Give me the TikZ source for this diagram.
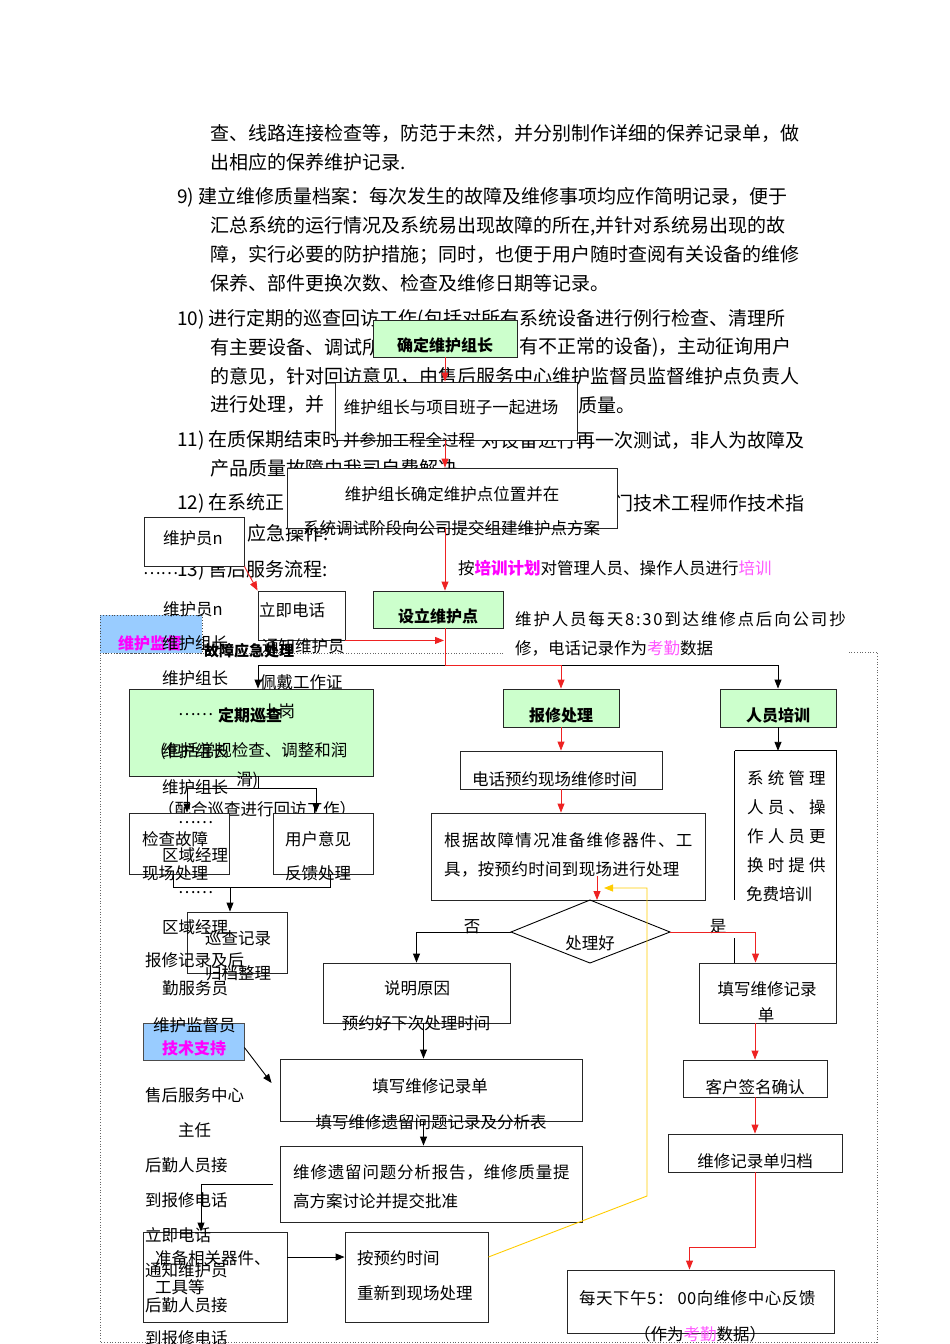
\documentclass[tikz,border=0pt]{standalone}
\usepackage{fontspec}
\setmainfont{Noto Sans CJK SC}
\usetikzlibrary{arrows.meta, positioning, calc}
\definecolor{boxgreen}{HTML}{CCFFCC}
\definecolor{boxblue}{HTML}{99CCFF}
\definecolor{mag}{HTML}{FF00FF}
\definecolor{magl}{HTML}{FF55FF}
\definecolor{lnred}{HTML}{EE2222}
\definecolor{lnyellow}{HTML}{FFCC00}
\newcommand\fsz[1]{\fontsize{#1pt}{#1pt}\selectfont}
\newcommand\spaced[1]{\addfontfeatures{LetterSpace=#1}}

\begin{document}
\begin{tikzpicture}[
        x=1pt, y=-1pt,
        body/.style={inner sep=0pt, anchor=west, font=\fsz{19}},
        lbl/.style={inner sep=0pt, anchor=west, font=\fsz{16.5}},
        ctr/.style={inner sep=0pt, font=\fsz{16.5}},
        hd/.style={inner sep=0pt, font=\fsz{16}\bfseries},
        wbox/.style={draw=black!85, fill=white, line width=0.9pt, inner sep=0pt},
        gbox/.style={wbox, fill=boxgreen},
        bbox/.style={draw=black!70, fill=boxblue, line width=0.8pt, inner sep=0pt},
        dotframe/.style={draw=black!60, line width=0.7pt, dotted},
        rarr/.style={draw=lnred, line width=0.9pt, -{Triangle[length=9pt,width=7pt]}},
        rline/.style={draw=lnred, line width=0.9pt},
        barr/.style={draw=black, line width=0.9pt, -{Triangle[length=9pt,width=7pt]}},
        bline/.style={draw=black, line width=0.9pt},
        yarr/.style={draw=lnyellow, line width=0.9pt, -{Triangle[length=9pt,width=7pt]}}
        ]
        \useasboundingbox (0,0) rectangle (950,1344);

        % body text of the page
        \node (t1)  [body] at (210,133) {查、线路连接检查等，防范于未然，并分别制作详细的保养记录单，做};
        \node (t2)  [body] at (210,162) {出相应的保养维护记录.};
        \node (t3)  [body] at (177,197) {9) 建立维修质量档案：每次发生的故障及维修事项均应作简明记录，便于};
        \node (t4)  [body] at (210,226) {汇总系统的运行情况及系统易出现故障的所在,并针对系统易出现的故};
        \node (t5)  [body] at (210,255) {障，实行必要的防护措施；同时，也便于用户随时查阅有关设备的维修};
        \node (t6)  [body] at (210,283) {保养、部件更换次数、检查及维修日期等记录。};
        \node (t7)  [body] at (177,319) {10) 进行定期的巡查回访工作(包括对所有系统设备进行例行检查、清理所};
        \node (t8a) [body] at (210,347) {有主要设备、调试所};
        \node (t8b) [body] at (519,347) {有不正常的设备)，主动征询用户};
        \node (t9)  [body] at (210,376) {的意见，针对回访意见，由售后服务中心维护监督员监督维护点负责人};
        \node (t10a) [body] at (210,405) {进行处理，并};
        \node (t10b) [body] at (578,405) {质量。};
        \node (t11a) [body] at (177,440) {11) 在质保期结束时};
        \node (t11b) [body, anchor=east] at (805,440) {对设备进行再一次测试，非人为故障及};
        \node (t12) [body] at (210,468) {产品质量故障由我司自费解决。};
        \node (t13a) [body] at (177,503) {12) 在系统正};
        \node (t13b) [body, anchor=east] at (805,503) {门技术工程师作技术指};
        \node (t14) [body] at (247,533) {应急操作:};
        \node (t15) [body] at (177,570) {13) 售后服务流程:};

        % frame and boxes
        \draw [dotframe] (503,653) -- (100,653) -- (100,1342) -- (877,1342) -- (877,652) -- (848,652);
        \node (sup) [bbox, dotted, minimum width=102, minimum height=38] at (151,634) {};

        \node (b1) [gbox, minimum width=144, minimum height=37] at (445,338.5) {};
        \node (b2) [wbox, minimum width=242, minimum height=58] at (456,411) {};
        \node (b3) [wbox, minimum width=330, minimum height=60] at (452,498) {};
        \node (b4) [gbox, minimum width=130, minimum height=37] at (438,609.5) {};
        \node (wn) [wbox, minimum width=100, minimum height=49] at (194,541.5) {};
        \node (call) [wbox, minimum width=87, minimum height=49] at (301.5,615.5) {};

        \node (dq) [gbox, minimum width=244, minimum height=87] at (251,732.5) {};
        \node (bx) [gbox, minimum width=116, minimum height=38] at (561,708) {};
        \node (px) [gbox, minimum width=116, minimum height=38] at (778,708) {};

        \node (dh) [wbox, minimum width=202, minimum height=38] at (561,770) {};
        \node (gj) [wbox, minimum width=274, minimum height=87] at (568,856.5) {};
        \node (sg) [inner sep=0pt, minimum width=101, minimum height=212] at (785.5,857) {};
        \draw [bline] (sg.north west) -- (sg.north east) -- (sg.south east);
        \draw [bline] (sg.north west) -- ++(0,149);
        \draw [bline] (sg.south west) -- ++(0,-25);

        \coordinate (dt) at (590,900);
        \coordinate (dr) at (670,932);
        \coordinate (db) at (590,963);
        \coordinate (dl) at (511,932);
        \draw [bline] (dt) -- (dr) -- (db) -- (dl) -- cycle;

        \node (xc) [wbox, minimum width=100, minimum height=61] at (237,942.5) {};

        \node (sm) [wbox, minimum width=187, minimum height=60] at (416.5,993) {};
        \node (tx) [wbox, minimum width=137, minimum height=60] at (767.5,993) {};
        \node (kh) [wbox, minimum width=144, minimum height=37] at (755,1078.5) {};
        \node (gd) [wbox, minimum width=174, minimum height=38] at (755,1153) {};
        \node (mt) [wbox, minimum width=267, minimum height=63] at (700.5,1301.5) {};

        \node (js) [bbox, minimum width=101, minimum height=37] at (193.5,1041.5) {};
        \node (tl) [wbox, minimum width=302, minimum height=62] at (431,1090) {};
        \node (wy) [wbox, minimum width=302, minimum height=76] at (431,1184) {};
        \node (zb) [wbox, minimum width=144, minimum height=90] at (215,1277) {};
        \node (ay) [wbox, minimum width=143, minimum height=90] at (416.5,1277) {};

        % texts in and around the boxes
        \node [hd] at (445,345) {确定维护组长};
        \node [ctr] at (451,407) {维护组长与项目班子一起进场};
        \node [lbl] at (343,440) {并参加工程全过程};
        \node [ctr] at (452,494) {维护组长确定维护点位置并在};
        \node [lbl] at (303,528) {系统调试阶段向公司提交组建维护点方案};
        \node [hd] at (438,616) {设立维护点};
        \node [lbl] at (458,568) {按{\color{mag}\bfseries 培训计划}对管理人员、操作人员进行{\color{magl}培训}};
        \node [lbl] at (515,619) {\spaced{11}维护人员每天8:30到达维修点后向公司抄};
        \node [lbl] at (515,648) {修，电话记录作为{\color{magl}考勤}数据};

        \node [lbl] at (163,538) {维护员n};
        \node [lbl] at (143,574) {……};
        \node [lbl] at (163,609) {维护员n};
        \node [lbl, font=\fsz{16}\bfseries, text=mag] at (118,643) {维护监督};
        \node [lbl, font=\fsz{15}\bfseries] at (204,651) {故障应急处理};
        \node [lbl] at (162,643) {维护组长};
        \node [lbl] at (162,678) {维护组长};
        \node [lbl] at (259,610) {立即电话};
        \node [lbl] at (262,646) {通知维护员};
        \node [lbl] at (260,682) {佩戴工作证};

        \node [lbl] at (178,715) {……};
        \node [hd, anchor=west] at (218,715) {定期巡查};
        \node [lbl] at (262,711) {上岗};
        \node [lbl] at (160,751) {(包括常规检查、调整和润};
        \node [lbl] at (162,751) {维护组长};
        \node [lbl] at (236,780) {滑)};
        \node [lbl] at (162,787) {维护组长};
        \node [lbl] at (158,809) {（配合巡查进行回访工作）};

        \node (jc) [wbox, minimum width=100, minimum height=61] at (179,843.5) {};
        \node (yh) [wbox, minimum width=100, minimum height=61] at (323,843.5) {};
        \node [lbl] at (178,823) {……};
        \node [lbl] at (142,839) {检查故障};
        \node [lbl] at (162,855) {区域经理};
        \node [lbl] at (142,873) {现场处理};
        \node [lbl] at (285,839) {用户意见};
        \node [lbl] at (285,873) {反馈处理};
        \node [lbl] at (178,893) {……};
        \node [lbl] at (162,927) {区域经理};
        \node [lbl] at (205,938) {巡查记录};
        \node [lbl] at (145,960) {报修记录及后};
        \node [lbl] at (205,973) {归档整理};
        \node [lbl] at (162,988) {勤服务员};

        \node [lbl] at (153,1025) {维护监督员};
        \node [hd, text=mag] at (194,1048) {技术支持};
        \node [lbl] at (145,1095) {售后服务中心};
        \node [lbl] at (178,1130) {主任};
        \node [lbl] at (145,1165) {后勤人员接};
        \node [lbl] at (145,1200) {到报修电话};
        \node [lbl] at (145,1235) {立即电话};
        \node [lbl] at (155,1258) {准备相关器件、};
        \node [lbl] at (145,1270) {通知维护员};
        \node [lbl] at (155,1287) {工具等};
        \node [lbl] at (145,1305) {后勤人员接};
        \node [lbl] at (145,1338) {到报修电话};

        \node [hd] at (561,715) {报修处理};
        \node [hd] at (778,715) {人员培训};
        \node [lbl] at (472,779) {电话预约现场维修时间};
        \node [lbl] at (444,840) {\spaced{8}根据故障情况准备维修器件、工};
        \node [lbl] at (444,869) {\spaced{2}具，按预约时间到现场进行处理};
        \node [lbl] at (747,778) {\spaced{25}系统管理};
        \node [lbl] at (747,807) {\spaced{25}人员、操};
        \node [lbl] at (747,836) {\spaced{25}作人员更};
        \node [lbl] at (747,865) {\spaced{25}换时提供};
        \node [lbl] at (746,894) {免费培训};
        \node [ctr] at (590,943) {处理好};
        \node [ctr] at (472,927) {否};
        \node [ctr] at (718,927) {是};
        \node [ctr] at (417,988) {说明原因};
        \node [ctr] at (416,1023) {预约好下次处理时间};
        \node [ctr] at (767,989) {填写维修记录};
        \node [ctr] at (766,1015) {单};
        \node [ctr] at (755,1087) {客户签名确认};
        \node [ctr] at (755,1161) {维修记录单归档};
        \node [lbl] at (579,1298) {\spaced{3}每天下午5： 00向维修中心反馈};
        \node [ctr] at (700,1334) {（作为{\color{magl}考勤}数据）};
        \node [ctr] at (430,1086) {填写维修记录单};
        \node [ctr] at (431,1122) {填写维修遗留问题记录及分析表};
        \node [lbl] at (293,1172) {\spaced{5}维修遗留问题分析报告，维修质量提};
        \node [lbl] at (293,1201) {高方案讨论并提交批准};
        \node [lbl] at (357,1258) {按预约时间};
        \node [lbl] at (357,1293) {重新到现场处理};

        % connectors
        \coordinate (sp) at (445,665);
        \draw [rarr] (b1.south) -- (b1.south |- b2.north);
        \draw [rarr] (b1.south |- b2.south) -- (b1.south |- b3.north);
        \draw [rarr] (b1.south |- b3.south) -- (b1.south |- b4.north);
        \draw [rarr] (wn.south east) -- (call.north west);
        \draw [rarr] (call.south east) -- ([xshift=-1pt]b1.south |- call.south);
        \draw [barr] (sp) -| ([xshift=7pt]dq.north);
        \draw [barr] (sp) -| (px.north);
        \draw [rline] (b1.south |- b4.south) -- (sp);
        \draw [rarr] (sp) -| (bx.north);

        \coordinate (xcn) at ([xshift=-7pt]xc.north);
        \draw [bline] ([xshift=7pt]dq.south) -- ++(0,12) coordinate (dqs);
        \draw [barr] (dqs) -| ([xshift=8pt]jc.north);
        \draw [barr] (dqs) -| ([xshift=-7pt]yh.north);
        \draw [bline] ([xshift=-6pt]jc.south) -- ++(0,13) coordinate (jcs) -- (jcs -| yh.south) -- ++(7,0) -- ([xshift=7pt]yh.south);
        \draw [barr] (jcs -| xcn) -- (xcn);

        \draw [rarr] (bx.south) -- (bx.south |- dh.north);
        \draw [rarr] (bx.south |- dh.south) -- (bx.south |- gj.north);
        \draw [rarr] ([xshift=7pt,yshift=24pt]dt) -- ([xshift=7pt]dt);
        \draw [barr] (px.south) -- (px.south |- sg.north);
        \draw [barr] (dl) -| (sm.north);
        \draw [rarr] (dr) -| ([xshift=-12pt]tx.north);
        \draw [rarr] (kh.north |- tx.south) -- (kh.north);
        \draw [rarr] (kh.south) -- (gd.north);
        \draw [rarr] (gd.south) -- ++(0,75) -| ([xshift=-11pt]mt.north);

        \draw [barr] ([xshift=7pt]sm.south) -- ([xshift=7pt]sm.south |- tl.north);
        \draw [barr] ([xshift=7pt]sm.south |- tl.south) -- ([xshift=7pt]sm.south |- wy.north);
        \draw [barr] ([xshift=-7pt]wy.west) -| ([xshift=-14pt]zb.north);
        \draw [barr] ([yshift=20pt]zb.east) -- ([yshift=20pt]ay.west);
        \draw [barr] ([yshift=-6pt]js.east) -- ([xshift=-8pt,yshift=7pt]tl.west);

        \coordinate (yc1) at (647,1196);
        \coordinate (yc2) at (647,888);
        \coordinate (yc3) at (604,888);
        \draw [yarr] ([yshift=20pt]ay.east) -- (yc1) -- (yc2) -- (yc3);

    \end{tikzpicture}
\end{document}
